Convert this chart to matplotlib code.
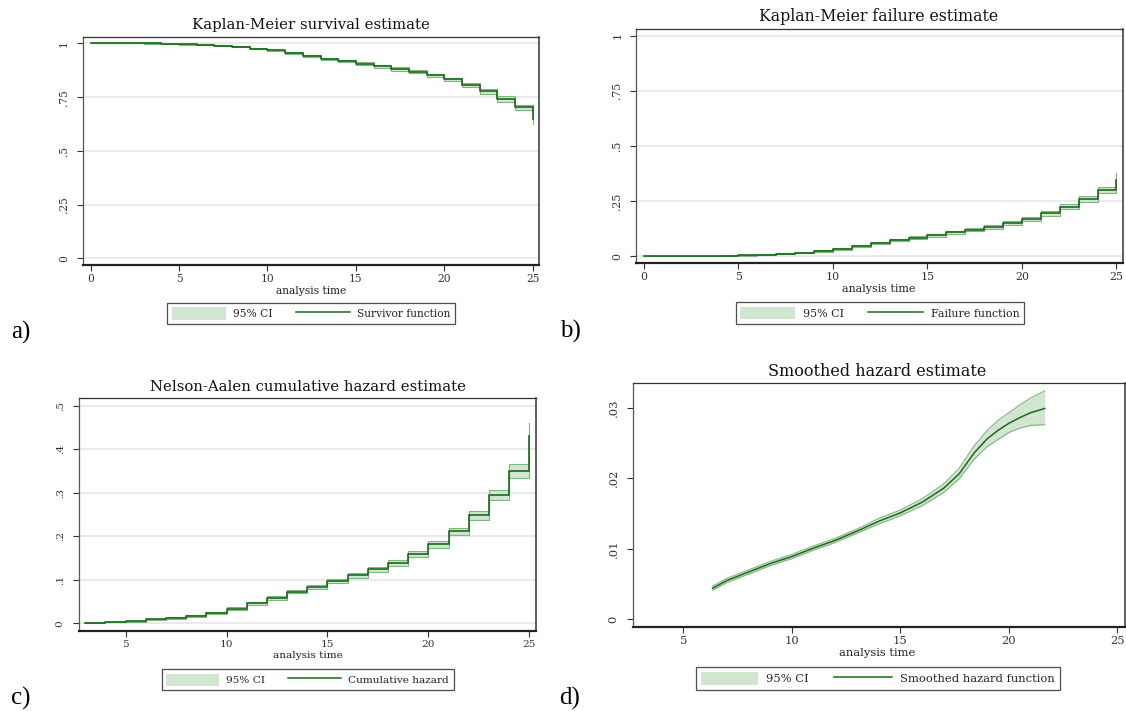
import matplotlib
matplotlib.use('Agg')
import matplotlib.pyplot as plt
from matplotlib.patches import Patch
from matplotlib.lines import Line2D

# ---------------- data ----------------
time_km = [0, 1, 2, 3, 4, 5, 6, 7, 8, 9, 10, 11, 12, 13, 14, 15, 16, 17, 18, 19, 20, 21, 22, 23, 24, 25]
surv = [1.000, 1.000, 1.000, 0.9995, 0.998, 0.996, 0.993, 0.989, 0.984, 0.976, 0.967, 0.954, 0.941,
        0.928, 0.917, 0.905, 0.893, 0.881, 0.869, 0.851, 0.832, 0.806, 0.777, 0.741, 0.702, 0.648]
surv_lo = [1.000, 1.000, 1.000, 0.999, 0.997, 0.9945, 0.991, 0.9865, 0.981, 0.9725, 0.963, 0.9495, 0.936,
           0.9225, 0.911, 0.8985, 0.886, 0.8735, 0.861, 0.8425, 0.823, 0.796, 0.766, 0.729, 0.689, 0.625]
surv_hi = [1.000, 1.000, 1.000, 1.000, 0.999, 0.9975, 0.995, 0.9915, 0.987, 0.9795, 0.971, 0.9585, 0.946,
           0.9335, 0.923, 0.9115, 0.900, 0.8885, 0.877, 0.8595, 0.841, 0.816, 0.788, 0.753, 0.715, 0.670]

fail = [0.0, 0.0, 0.0, 0.0005, 0.002, 0.004, 0.007, 0.011, 0.016, 0.024, 0.033, 0.046, 0.059,
        0.072, 0.083, 0.095, 0.107, 0.119, 0.131, 0.149, 0.168, 0.194, 0.223, 0.259, 0.298, 0.345]
fail_lo = [0.0, 0.0, 0.0, 0.0, 0.001, 0.0025, 0.005, 0.0085, 0.013, 0.0205, 0.029, 0.0415, 0.054,
           0.0665, 0.077, 0.0885, 0.100, 0.1115, 0.123, 0.1405, 0.159, 0.184, 0.212, 0.247, 0.285, 0.330]
fail_hi = [0.0, 0.0, 0.0, 0.001, 0.003, 0.0055, 0.009, 0.0135, 0.019, 0.0275, 0.037, 0.0505, 0.064,
           0.0775, 0.089, 0.1015, 0.114, 0.1265, 0.139, 0.1575, 0.177, 0.204, 0.234, 0.271, 0.311, 0.375]

time_na = [3, 4, 5, 6, 7, 8, 9, 10, 11, 12, 13, 14, 15, 16, 17, 18, 19, 20, 21, 22, 23, 24, 25]
cumhaz = [0.0015, 0.003, 0.005, 0.009, 0.013, 0.017, 0.024, 0.034, 0.046, 0.058, 0.073, 0.083,
          0.097, 0.110, 0.124, 0.139, 0.159, 0.182, 0.211, 0.248, 0.295, 0.349, 0.431]
cumhaz_lo = [0.001, 0.002, 0.0038, 0.0075, 0.011, 0.015, 0.0215, 0.031, 0.0425, 0.054, 0.0685, 0.078,
             0.0915, 0.104, 0.1175, 0.132, 0.1515, 0.174, 0.2025, 0.2385, 0.284, 0.333, 0.400]
cumhaz_hi = [0.002, 0.004, 0.0062, 0.0105, 0.015, 0.019, 0.0265, 0.037, 0.0495, 0.062, 0.0775, 0.088,
             0.1025, 0.116, 0.1305, 0.146, 0.1665, 0.190, 0.2195, 0.2575, 0.306, 0.365, 0.461]

time_sm = [6.35, 7, 8, 9, 10, 11, 12, 13, 14, 15, 16, 17, 17.7, 18.4, 19, 19.5, 20, 20.5, 21, 21.65]
smhaz = [0.0044, 0.0055, 0.0067, 0.0079, 0.0089, 0.0101, 0.0112, 0.0125, 0.0139, 0.0151, 0.0166,
         0.0186, 0.0206, 0.0236, 0.0256, 0.0268, 0.0278, 0.0286, 0.0293, 0.0299]
smhaz_lo = [0.0041, 0.0052, 0.0064, 0.0076, 0.0086, 0.0098, 0.0109, 0.0122, 0.0135, 0.0147, 0.0161,
            0.0180, 0.0199, 0.0227, 0.0245, 0.0255, 0.0265, 0.0271, 0.0275, 0.0276]
smhaz_hi = [0.0047, 0.0058, 0.0070, 0.0082, 0.0092, 0.0104, 0.0115, 0.0128, 0.0143, 0.0155, 0.0171,
            0.0192, 0.0214, 0.0246, 0.0268, 0.0282, 0.0293, 0.0304, 0.0314, 0.0324]

titles = ["Kaplan-Meier survival estimate", "Kaplan-Meier failure estimate",
          "Nelson-Aalen cumulative hazard estimate", "Smoothed hazard estimate"]
legend_labels = ["Survivor function", "Failure function", "Cumulative hazard", "Smoothed hazard function"]
ci_label = "95% CI"
xlabel = "analysis time"
panel_letters = ["a)", "b)", "c)", "d)"]

yticks_prob = [0, 0.25, 0.5, 0.75, 1]
yticklabels_prob = ["0", ".25", ".5", ".75", "1"]
yticks_na = [0, 0.1, 0.2, 0.3, 0.4, 0.5]
yticklabels_na = ["0", ".1", ".2", ".3", ".4", ".5"]
yticks_sm = [0, 0.01, 0.02, 0.03]
yticklabels_sm = ["0", ".01", ".02", ".03"]
xticks_full = [0, 5, 10, 15, 20, 25]
xticks_part = [5, 10, 15, 20, 25]

# ---------------- style ----------------
plt.rcParams['font.family'] = ['DejaVu Serif']
W, H = 1126, 711
fig = plt.figure(figsize=(W / 100, H / 100), dpi=100)
fig.patch.set_facecolor('white')

LINE = '#1a691a'
FILL = '#d1e5d1'
EDGE = '#80b680'
GRID = '#e4e4e4'
TXT = '#222222'


def fx(x):
    return x / W


def fy(y):
    return 1 - y / H


def add_ax(l, t, r, b):
    return fig.add_axes([l / W, 1 - b / H, (r - l) / W, (b - t) / H])


def style(ax, xlim, ylim, yticks, ylabels, xticks, s, grid=True):
    ax.set_xlim(*xlim)
    ax.set_ylim(*ylim)
    ax.set_yticks(yticks)
    ax.set_yticklabels(ylabels, rotation=90, va='center')
    ax.set_xticks(xticks)
    ax.set_xticklabels([str(v) for v in xticks])
    ax.tick_params(axis='both', length=4, width=0.8, color='#333333',
                   labelsize=7 * s, labelcolor='#333333')
    ax.tick_params(axis='y', pad=6)
    ax.tick_params(axis='x', pad=2.5)
    if grid:
        for v in yticks:
            ax.axhline(v, color=GRID, lw=1.1, zorder=0)
    ax.spines['left'].set_color('#555555')
    ax.spines['left'].set_linewidth(0.9)
    ax.spines['bottom'].set_color('#222222')
    ax.spines['bottom'].set_linewidth(1.6)
    ax.spines['top'].set_color('#333333')
    ax.spines['top'].set_linewidth(0.9)
    ax.spines['right'].set_color('#333333')
    ax.spines['right'].set_linewidth(1.1)


def steps(ax, t, y, lo, hi):
    ax.fill_between(t, lo, hi, step='post', color=FILL, lw=0, zorder=1)
    ax.step(t, lo, where='post', color=EDGE, lw=0.8, zorder=2)
    ax.step(t, hi, where='post', color=EDGE, lw=0.8, zorder=2)
    ax.step(t, y, where='post', color=LINE, lw=1.2, zorder=3)


def legend(ax, label, cx, cy, s):
    h = [Patch(facecolor=FILL, edgecolor='none'), Line2D([], [], color=LINE, lw=1.1)]
    leg = ax.legend(h, [ci_label, label], ncol=2, loc='center',
                    bbox_to_anchor=(fx(cx), fy(cy)), bbox_transform=fig.transFigure,
                    fontsize=7 * s, frameon=True, fancybox=False, edgecolor='#222222',
                    handlelength=5, handleheight=1.4, handletextpad=0.7,
                    columnspacing=2.2, borderpad=0.45, borderaxespad=0)
    leg.get_frame().set_linewidth(0.9)
    for tx in leg.get_texts():
        tx.set_color(TXT)


def texts(title, tx, ty, ts, lx, ly, s, letter, px, py):
    fig.text(fx(tx), fy(ty), title, ha='center', va='center', fontsize=ts, color='#111111')
    fig.text(fx(lx), fy(ly), xlabel, ha='center', va='center', fontsize=7 * s, color=TXT)
    fig.text(fx(px), fy(py), letter, ha='left', va='baseline', fontsize=18,
             family='Liberation Serif', color='black')


# a) survival
s = 1.1
ax = add_ax(82.7, 36.7, 539.3, 265)
steps(ax, time_km, surv, surv_lo, surv_hi)
style(ax, (-0.45, 25.37), (-0.031, 1.031), yticks_prob, yticklabels_prob, xticks_full, s)
legend(ax, legend_labels[0], 311.3, 313.5, s)
texts(titles[0], 311, 25, 10.7, 311, 290.7, s, panel_letters[0], 11, 339)

# b) failure
s = 1.13
ax = add_ax(636, 28.7, 1122.7, 262.7)
steps(ax, time_km, fail, fail_lo, fail_hi)
style(ax, (-0.42, 25.33), (-0.03, 1.031), yticks_prob, yticklabels_prob, xticks_full, s)
legend(ax, legend_labels[1], 880, 313, s)
texts(titles[1], 879, 16.7, 11.3, 879, 289.3, s, panel_letters[1], 560, 338)

# c) Nelson-Aalen
s = 1.08
ax = add_ax(78.6, 398.3, 536.4, 630.7)
steps(ax, time_na, cumhaz, cumhaz_lo, cumhaz_hi)
style(ax, (2.67, 25.35), (-0.017, 0.517), yticks_na, yticklabels_na, xticks_part, s)
legend(ax, legend_labels[2], 307.5, 679.7, s)
texts(titles[2], 307.5, 387.3, 10.7, 307.5, 656, s, panel_letters[2], 11, 705)

# d) smoothed hazard
s = 1.18
ax = add_ax(632.5, 382.7, 1125, 626.7)
ax.fill_between(time_sm, smhaz_lo, smhaz_hi, color=FILL, lw=0, zorder=1)
ax.plot(time_sm, smhaz_lo, color=EDGE, lw=0.8, zorder=2)
ax.plot(time_sm, smhaz_hi, color=EDGE, lw=0.8, zorder=2)
ax.plot(time_sm, smhaz, color=LINE, lw=1.1, zorder=3)
style(ax, (2.66, 25.35), (-0.00105, 0.03356), yticks_sm, yticklabels_sm, xticks_part, s, grid=False)
legend(ax, legend_labels[3], 877.8, 678.3, s)
texts(titles[3], 877, 371.7, 11.5, 877, 653, s, panel_letters[3], 559, 705)

fig.savefig('out.png', dpi=100, facecolor='white')
